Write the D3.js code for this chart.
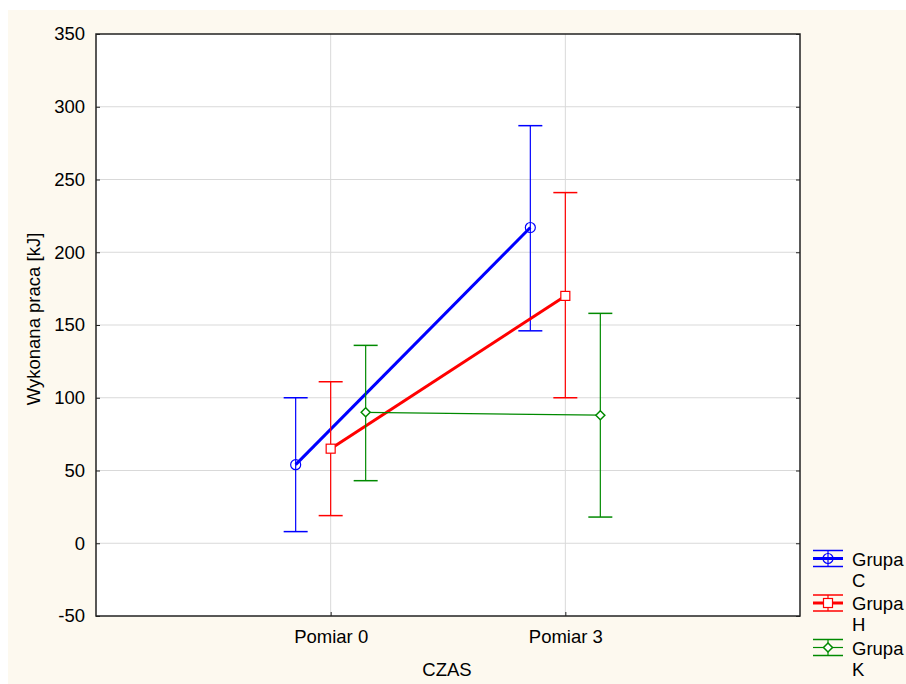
<!DOCTYPE html>
<html>
<head>
<meta charset="utf-8">
<script src="https://cdn.jsdelivr.net/npm/d3@7"></script>
<style>
  body { margin: 0; background: #fff; }
  text { font-family: "Liberation Sans", Arial, sans-serif; fill: #000; }
</style>
</head>
<body>
<svg id="chart" width="906" height="684"></svg>
<script>
// categories and tick labels
var categories = ["Pomiar 0", "Pomiar 3"];
var groups = ["Grupa C", "Grupa H", "Grupa K"];
var yTicks = [-50, 0, 50, 100, 150, 200, 250, 300, 350];

// means and error bar limits, per group, per category
var meanC = [54, 217], lowC = [8, 146], highC = [100, 287];
var meanH = [65, 170], lowH = [19, 100], highH = [111, 241];
var meanK = [90, 88], lowK = [43, 18], highK = [136, 158];

var series = [
  { name: "Grupa", code: "C", mean: meanC, low: lowC, high: highC, color: "#0000ff", width: 3, marker: "circle", shift: -1 },
  { name: "Grupa", code: "H", mean: meanH, low: lowH, high: highH, color: "#ff0000", width: 3, marker: "square", shift: 0 },
  { name: "Grupa", code: "K", mean: meanK, low: lowK, high: highK, color: "#008a00", width: 1.2, marker: "diamond", shift: 1 }
];

var fontSize = "18.5px";
var svg = d3.select("#chart");
var margin = { left: 96, top: 34, right: 800, bottom: 616 };

// cream backdrop
svg.append("rect").attr("x", 8).attr("y", 10).attr("width", 898).attr("height", 674)
  .attr("fill", "#fdf9ef");
svg.append("rect").attr("x", margin.left).attr("y", margin.top)
  .attr("width", margin.right - margin.left).attr("height", margin.bottom - margin.top)
  .attr("fill", "#fff");

var x = d3.scalePoint().domain(categories).range([margin.left, margin.right]).padding(1);
var y = d3.scaleLinear().domain([-50, 350]).range([margin.bottom, margin.top]);
var offset = 35;

// grid
svg.append("g").selectAll("line.hg").data(yTicks.slice(1, -1)).enter().append("line")
  .attr("x1", margin.left).attr("x2", margin.right)
  .attr("y1", d => y(d)).attr("y2", d => y(d))
  .attr("stroke", "#d9d9d9").attr("stroke-width", 1);
svg.append("g").selectAll("line.vg").data(categories).enter().append("line")
  .attr("x1", d => x(d)).attr("x2", d => x(d))
  .attr("y1", margin.top).attr("y2", margin.bottom)
  .attr("stroke", "#d9d9d9").attr("stroke-width", 1);

// axes (ticks inward)
var yAxis = d3.axisLeft(y).tickValues(yTicks).tickSize(-4).tickPadding(11).tickFormat(d => String(d));
var gy = svg.append("g").attr("transform", "translate(" + margin.left + ",0)").call(yAxis);
gy.select(".domain").remove();
gy.selectAll("text").style("font-size", fontSize).style("font-family", "Liberation Sans, Arial, sans-serif");
gy.selectAll("line").attr("stroke", "#222");

var gyr = svg.append("g").attr("transform", "translate(" + margin.right + ",0)")
  .call(d3.axisRight(y).tickValues(yTicks).tickSize(-4).tickFormat(""));
gyr.select(".domain").remove();
gyr.selectAll("line").attr("stroke", "#222");

var xAxis = d3.axisBottom(x).tickSize(-4).tickPadding(14);
var gx = svg.append("g").attr("transform", "translate(0," + margin.bottom + ")").call(xAxis);
gx.select(".domain").remove();
gx.selectAll("text").style("font-size", fontSize).style("font-family", "Liberation Sans, Arial, sans-serif");
gx.selectAll("line").attr("stroke", "#222");

// frame
svg.append("rect").attr("x", margin.left).attr("y", margin.top)
  .attr("width", margin.right - margin.left).attr("height", margin.bottom - margin.top)
  .attr("fill", "none").attr("stroke", "#222").attr("stroke-width", 1.5);

// axis titles
svg.append("text").attr("x", 447).attr("y", 676).attr("text-anchor", "middle")
  .style("font-size", fontSize).text("CZAS");
svg.append("text").attr("transform", "translate(40,319) rotate(-90)").attr("text-anchor", "middle")
  .style("font-size", fontSize).text("Wykonana praca [kJ]");

function drawMarker(g, type, cx, cy, color) {
  if (type == "circle") {
    g.append("circle").attr("cx", cx).attr("cy", cy).attr("r", 5)
      .attr("fill", "none").attr("stroke", color).attr("stroke-width", 1.2);
  } else if (type == "square") {
    g.append("rect").attr("x", cx - 4.5).attr("y", cy - 4.5).attr("width", 9).attr("height", 9)
      .attr("fill", "#fff").attr("stroke", color).attr("stroke-width", 1.2);
  } else {
    g.append("path").attr("d", "M" + cx + "," + (cy - 4.5) + "L" + (cx + 4.5) + "," + cy +
      "L" + cx + "," + (cy + 4.5) + "L" + (cx - 4.5) + "," + cy + "Z")
      .attr("fill", "#fff").attr("stroke", color).attr("stroke-width", 1.5);
  }
}

var cap = 12;
series.forEach(function(s) {
  var g = svg.append("g");
  var px = categories.map(c => x(c) + s.shift * offset);
  // error bars
  categories.forEach(function(c, i) {
    g.append("line").attr("x1", px[i]).attr("x2", px[i])
      .attr("y1", y(s.low[i])).attr("y2", y(s.high[i]))
      .attr("stroke", s.color).attr("stroke-width", 1.2);
    [s.low[i], s.high[i]].forEach(function(v) {
      g.append("line").attr("x1", px[i] - cap).attr("x2", px[i] + cap)
        .attr("y1", y(v)).attr("y2", y(v))
        .attr("stroke", s.color).attr("stroke-width", 1.5);
    });
  });
  // mean line
  var line = d3.line().x((d, i) => px[i]).y(d => y(d));
  g.append("path").attr("d", line(s.mean)).attr("fill", "none")
    .attr("stroke", s.color).attr("stroke-width", s.width);
  s.mean.forEach(function(v, i) { drawMarker(g, s.marker, px[i], y(v), s.color); });
});

// legend
var legend = svg.append("g");
series.forEach(function(s, i) {
  var ly = 558.5 + i * 44.5;
  var lg = legend.append("g");
  [-8, 8].forEach(function(d) {
    lg.append("line").attr("x1", 813).attr("x2", 843).attr("y1", ly + d).attr("y2", ly + d)
      .attr("stroke", s.color).attr("stroke-width", 1.5);
  });
  lg.append("line").attr("x1", 813).attr("x2", 843).attr("y1", ly).attr("y2", ly)
    .attr("stroke", s.color).attr("stroke-width", s.width);
  lg.append("line").attr("x1", 828).attr("x2", 828).attr("y1", ly - 8).attr("y2", ly + 8)
    .attr("stroke", s.color).attr("stroke-width", 1.2);
  drawMarker(lg, s.marker, 828, ly, s.color);
  lg.append("text").attr("x", 852).attr("y", ly + 7).style("font-size", fontSize).text(s.name);
  lg.append("text").attr("x", 852).attr("y", ly + 28).style("font-size", fontSize).text(s.code);
});
</script>
</body>
</html>
